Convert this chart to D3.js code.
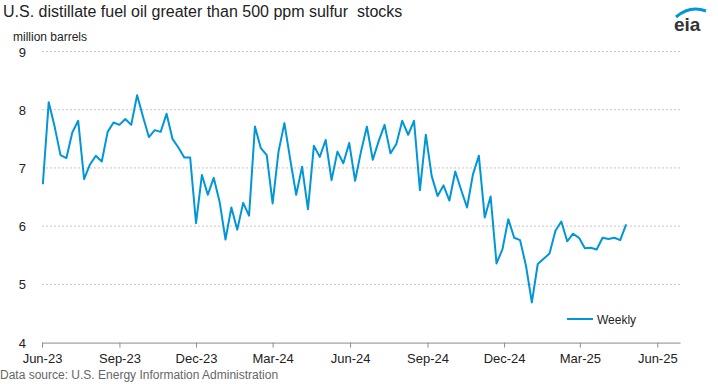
<!DOCTYPE html>
<html>
<head>
<meta charset="utf-8">
<script src="https://cdn.jsdelivr.net/npm/d3@7"></script>
<style>
  body { margin: 0; background: #fff; }
  svg { font-family: "Liberation Sans", Arial, sans-serif; }
  .grid line { stroke: #c8c8c8; stroke-dasharray: 2,2; }
  .axis text { font-size: 13px; fill: #222; }
</style>
</head>
<body>
<svg width="718" height="384"></svg>
<script>
var svg = d3.select("svg");

// Weekly stocks, million barrels (first week ending 2023-06-02)
var firstWeek = "2023-06-02";
var stocks = [
    6.72, 8.13, 7.71, 7.22, 7.17, 7.61, 7.81, 6.81, 7.06, 7.21,
    7.11, 7.62, 7.78, 7.74, 7.84, 7.74, 8.25, 7.88, 7.53, 7.65,
    7.62, 7.93, 7.50, 7.35, 7.18, 7.18, 6.05, 6.88, 6.54, 6.83,
    6.42, 5.77, 6.32, 5.94, 6.40, 6.18, 7.71, 7.34, 7.22, 6.39,
    7.28, 7.77, 7.14, 6.54, 7.02, 6.29, 7.38, 7.19, 7.48, 6.79,
    7.28, 7.08, 7.43, 6.78, 7.28, 7.71, 7.14, 7.46, 7.74, 7.25,
    7.41, 7.81, 7.57, 7.81, 6.62, 7.57, 6.86, 6.52, 6.70, 6.44,
    6.94, 6.62, 6.32, 6.89, 7.21, 6.15, 6.51, 5.36, 5.60, 6.12,
    5.80, 5.76, 5.32, 4.69, 5.35, 5.44, 5.53, 5.92, 6.08, 5.74,
    5.87, 5.80, 5.62, 5.63, 5.60, 5.80, 5.78, 5.80, 5.76, 6.03
];

var yTicks = [4, 5, 6, 7, 8, 9];
var xTicks = ["2023-06-01", "2023-09-01", "2023-12-01", "2024-03-01", "2024-06-01",
              "2024-09-01", "2024-12-01", "2025-03-01", "2025-06-01"];

var parse = d3.timeParse("%Y-%m-%d");
var start = parse(firstWeek);
var data = stocks.map(function(v, i) {
    return { date: d3.timeDay.offset(start, 7 * i), value: v };
});

// Scales
var x = d3.scaleTime()
    .domain([parse("2023-06-01"), parse("2025-06-28")])
    .range([42, 680]);

var y = d3.scaleLinear()
    .domain([4, 9])
    .range([342.6, 51.5]);

// Gridlines
svg.append("g")
    .attr("class", "grid")
    .selectAll("line")
    .data(yTicks.slice(1))
    .enter()
    .append("line")
    .attr("x1", 42)
    .attr("x2", 680)
    .attr("y1", function(d) { return y(d); })
    .attr("y2", function(d) { return y(d); });

// Y labels
svg.append("g")
    .attr("class", "axis")
    .selectAll("text")
    .data(yTicks)
    .enter()
    .append("text")
    .attr("x", 26)
    .attr("y", function(d) { return y(d) + 5; })
    .attr("text-anchor", "end")
    .text(function(d) { return d; });

// X axis
var xAxis = d3.axisBottom(x)
    .tickValues(xTicks.map(parse))
    .tickFormat(d3.timeFormat("%b-%y"))
    .tickSize(5)
    .tickSizeOuter(0);

var gx = svg.append("g")
    .attr("class", "axis")
    .attr("transform", "translate(0," + y(4) + ")")
    .call(xAxis);
gx.select(".domain").attr("stroke", "#8c8c8c");
gx.selectAll(".tick line").attr("stroke", "#8c8c8c");
gx.selectAll(".tick text").attr("dy", "0.95em").style("font-size", "13px").attr("fill", "#222");

// Line
var line = d3.line()
    .x(function(d) { return x(d.date); })
    .y(function(d) { return y(d.value); });

svg.append("path")
    .datum(data)
    .attr("fill", "none")
    .attr("stroke", "#0096d7")
    .attr("stroke-width", 2)
    .attr("stroke-linejoin", "round")
    .attr("d", line);

// Title
svg.append("text")
    .attr("x", 3)
    .attr("y", 17)
    .style("font-size", "16px")
    .style("white-space", "pre")
    .attr("fill", "#222")
    .text("U.S. distillate fuel oil greater than 500 ppm sulfur  stocks");

svg.append("text")
    .attr("x", 13)
    .attr("y", 41)
    .style("font-size", "12px")
    .attr("fill", "#222")
    .text("million barrels");

// Legend
svg.append("line")
    .attr("x1", 567).attr("x2", 593)
    .attr("y1", 319).attr("y2", 319)
    .attr("stroke", "#0096d7")
    .attr("stroke-width", 2);
svg.append("text")
    .attr("x", 597)
    .attr("y", 324)
    .style("font-size", "12px")
    .attr("fill", "#222")
    .text("Weekly");

// Source
svg.append("text")
    .attr("x", 0)
    .attr("y", 379)
    .style("font-size", "12px")
    .attr("fill", "#666")
    .text("Data source: U.S. Energy Information Administration");

// eia logo
svg.append("path")
    .attr("d", "M676,17 Q690,5 706,11")
    .attr("fill", "none")
    .attr("stroke", "#0096d7")
    .attr("stroke-width", 3);
svg.append("text")
    .attr("x", 674)
    .attr("y", 31)
    .style("font-size", "19px")
    .style("font-weight", "bold")
    .attr("fill", "#333")
    .text("eia");
</script>
</body>
</html>
